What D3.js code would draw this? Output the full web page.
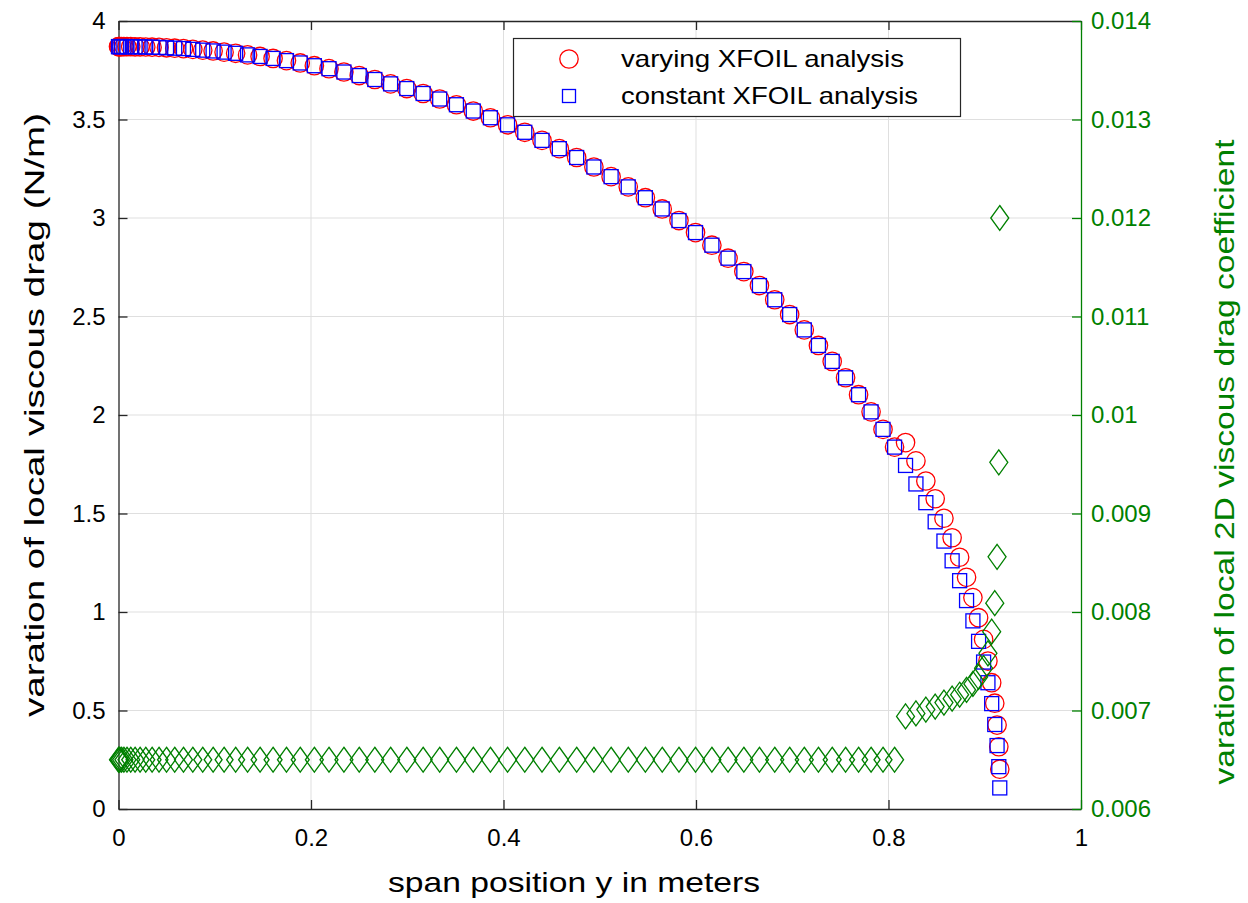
<!DOCTYPE html>
<html>
<head>
<meta charset="utf-8">
<script src="https://cdn.jsdelivr.net/npm/d3@7"></script>
<style>
  html, body { margin: 0; padding: 0; background: #fff; }
  svg { display: block; }
  text { font-family: "Liberation Sans", Arial, sans-serif; }
</style>
</head>
<body>
<svg id="chart" width="1248" height="903"></svg>
<script>
// ---- data ----
const spanPositions = [
  0.0000, 0.0004, 0.0014, 0.0032, 0.0056, 0.0088, 0.0127, 0.0172, 0.0224, 0.0283,
  0.0349, 0.0421, 0.0499, 0.0584, 0.0675, 0.0772, 0.0875, 0.0983, 0.1097, 0.1217,
  0.1341, 0.1471, 0.1606, 0.1745, 0.1888, 0.2035, 0.2187, 0.2342, 0.2501, 0.2663,
  0.2827, 0.2995, 0.3165, 0.3337, 0.3511, 0.3686, 0.3864, 0.4042, 0.4221, 0.4400,
  0.4580, 0.4760, 0.4939, 0.5118, 0.5296, 0.5474, 0.5649, 0.5823, 0.5995, 0.6165,
  0.6333, 0.6497, 0.6659, 0.6818, 0.6973, 0.7125, 0.7272, 0.7415, 0.7554, 0.7689,
  0.7819, 0.7943, 0.8063, 0.8177, 0.8285, 0.8388, 0.8485, 0.8576, 0.8661, 0.8739,
  0.8811, 0.8877, 0.8936, 0.8988, 0.9033, 0.9072, 0.9104, 0.9128, 0.9146, 0.9156
];
const dragVarying = [
  3.870, 3.870, 3.870, 3.870, 3.870, 3.870, 3.870, 3.869, 3.869, 3.868,
  3.867, 3.866, 3.864, 3.862, 3.860, 3.856, 3.852, 3.848, 3.842, 3.836,
  3.828, 3.820, 3.810, 3.799, 3.787, 3.773, 3.758, 3.741, 3.723, 3.703,
  3.681, 3.657, 3.632, 3.604, 3.575, 3.543, 3.509, 3.473, 3.435, 3.394,
  3.352, 3.307, 3.259, 3.210, 3.158, 3.103, 3.046, 2.987, 2.926, 2.862,
  2.796, 2.728, 2.657, 2.585, 2.510, 2.432, 2.353, 2.272, 2.189, 2.103,
  2.016, 1.927, 1.837, 1.860, 1.767, 1.665, 1.575, 1.476, 1.377, 1.278,
  1.176, 1.073, 0.971, 0.861, 0.751, 0.641, 0.537, 0.426, 0.316, 0.202
];
const dragConstant = [
  3.870, 3.870, 3.870, 3.870, 3.870, 3.870, 3.870, 3.869, 3.869, 3.868,
  3.867, 3.866, 3.864, 3.862, 3.860, 3.856, 3.852, 3.848, 3.842, 3.836,
  3.828, 3.820, 3.810, 3.799, 3.787, 3.773, 3.758, 3.741, 3.723, 3.703,
  3.681, 3.657, 3.632, 3.604, 3.575, 3.543, 3.509, 3.473, 3.435, 3.394,
  3.352, 3.307, 3.259, 3.210, 3.158, 3.103, 3.046, 2.987, 2.926, 2.862,
  2.796, 2.728, 2.657, 2.585, 2.510, 2.432, 2.353, 2.272, 2.189, 2.103,
  2.016, 1.927, 1.837, 1.744, 1.650, 1.555, 1.458, 1.360, 1.260, 1.159,
  1.058, 0.955, 0.851, 0.746, 0.641, 0.535, 0.429, 0.322, 0.215, 0.107
];
const dragCoefficient = [
  0.0065, 0.0065, 0.0065, 0.0065, 0.0065, 0.0065, 0.0065, 0.0065, 0.0065, 0.0065,
  0.0065, 0.0065, 0.0065, 0.0065, 0.0065, 0.0065, 0.0065, 0.0065, 0.0065, 0.0065,
  0.0065, 0.0065, 0.0065, 0.0065, 0.0065, 0.0065, 0.0065, 0.0065, 0.0065, 0.0065,
  0.0065, 0.0065, 0.0065, 0.0065, 0.0065, 0.0065, 0.0065, 0.0065, 0.0065, 0.0065,
  0.0065, 0.0065, 0.0065, 0.0065, 0.0065, 0.0065, 0.0065, 0.0065, 0.0065, 0.0065,
  0.0065, 0.0065, 0.0065, 0.0065, 0.0065, 0.0065, 0.0065, 0.0065, 0.0065, 0.0065,
  0.0065, 0.0065, 0.0065, 0.00694, 0.00697, 0.00701, 0.00704, 0.00708, 0.00712, 0.00716,
  0.00721, 0.00727, 0.00734, 0.00743, 0.00758, 0.00780, 0.00809, 0.00856, 0.00952, 0.01200
];
const xTicks = [0, 0.2, 0.4, 0.6, 0.8, 1];
const xTickLabels = ["0", "0.2", "0.4", "0.6", "0.8", "1"];
const yLeftTicks = [0, 0.5, 1, 1.5, 2, 2.5, 3, 3.5, 4];
const yLeftTickLabels = ["0", "0.5", "1", "1.5", "2", "2.5", "3", "3.5", "4"];
const yRightTicks = [0.006, 0.007, 0.008, 0.009, 0.010, 0.011, 0.012, 0.013, 0.014];
const yRightTickLabels = ["0.006", "0.007", "0.008", "0.009", "0.01", "0.011", "0.012", "0.013", "0.014"];
const seriesNames = ["varying XFOIL analysis", "constant XFOIL analysis"];
const xLabel = "span position y in meters";
const yLeftLabel = "varation of local viscous drag (N/m)";
const yRightLabel = "varation of local 2D viscous drag coefficient";

// ---- layout ----
const L = 118.5, R = 1081, T = 21, B = 809;
const axisColor = "#262626", gridColor = "#dfdfdf", green = "#008000";
const svg = d3.select("#chart");

const x = d3.scaleLinear().domain([0, 1]).range([L, R]);
const yL = d3.scaleLinear().domain([0, 4]).range([B, T]);
const yR = d3.scaleLinear().domain([0.006, 0.014]).range([B, T]);

svg.append("rect").attr("width", 1248).attr("height", 903).attr("fill", "#fff");

// grid
const grid = svg.append("g");
grid.selectAll("line.gx").data(xTicks.slice(1, -1)).join("line")
  .attr("x1", d => x(d)).attr("x2", d => x(d)).attr("y1", T).attr("y2", B)
  .attr("stroke", gridColor).attr("stroke-width", 1);
grid.selectAll("line.gy").data(yLeftTicks.slice(1, -1)).join("line")
  .attr("x1", L).attr("x2", R).attr("y1", d => yL(d)).attr("y2", d => yL(d))
  .attr("stroke", gridColor).attr("stroke-width", 1);

// axes
const fs = 24;
const bottomAxis = d3.axisBottom(x).tickValues(xTicks).tickFormat((d, i) => xTickLabels[i])
  .tickSizeInner(-9).tickSizeOuter(0).tickPadding(20);
const gB = svg.append("g").attr("transform", `translate(0,${B})`).call(bottomAxis);
const topAxis = d3.axisTop(x).tickValues(xTicks).tickFormat("").tickSizeInner(-9).tickSizeOuter(0);
const gT = svg.append("g").attr("transform", `translate(0,${T})`).call(topAxis);
const leftAxis = d3.axisLeft(yL).tickValues(yLeftTicks).tickFormat((d, i) => yLeftTickLabels[i])
  .tickSizeInner(-9).tickSizeOuter(0).tickPadding(13);
const gLft = svg.append("g").attr("transform", `translate(${L},0)`).call(leftAxis);
const rightAxis = d3.axisRight(yR).tickValues(yRightTicks).tickFormat((d, i) => yRightTickLabels[i])
  .tickSizeInner(-9).tickSizeOuter(0).tickPadding(10);
const gRt = svg.append("g").attr("transform", `translate(${R},0)`).call(rightAxis);

[gB, gT, gLft].forEach(g => {
  g.selectAll(".domain").attr("stroke", axisColor).attr("stroke-width", 1.3);
  g.selectAll(".tick line").attr("stroke", axisColor).attr("stroke-width", 1.3);
  g.selectAll(".tick text").attr("fill", "#000").style("font-size", fs + "px")
    .style("font-family", "'Liberation Sans', Arial, sans-serif");
});
gRt.selectAll(".domain").attr("stroke", green).attr("stroke-width", 1.3);
gRt.selectAll(".tick line").attr("stroke", green).attr("stroke-width", 1.3);
gRt.selectAll(".tick text").attr("fill", green).style("font-size", fs + "px")
  .style("font-family", "'Liberation Sans', Arial, sans-serif");

// axis labels (stretched to the widths seen in the reference)
svg.append("text").attr("x", 574).attr("y", 892)
  .attr("text-anchor", "middle").attr("font-size", 28).attr("fill", "#000")
  .attr("textLength", 372).attr("lengthAdjust", "spacingAndGlyphs").text(xLabel);
svg.append("text").attr("transform", `translate(44,415) rotate(-90)`)
  .attr("text-anchor", "middle").attr("font-size", 28).attr("fill", "#000")
  .attr("textLength", 604).attr("lengthAdjust", "spacingAndGlyphs").text(yLeftLabel);
svg.append("text").attr("transform", `translate(1234,462) rotate(-90)`)
  .attr("text-anchor", "middle").attr("font-size", 28).attr("fill", green)
  .attr("textLength", 645).attr("lengthAdjust", "spacingAndGlyphs").text(yRightLabel);

// markers
const idx = d3.range(spanPositions.length);
const marks = svg.append("g").attr("fill", "none").attr("stroke-width", 1.3);
marks.selectAll("circle").data(idx).join("circle")
  .attr("cx", i => x(spanPositions[i])).attr("cy", i => yL(dragVarying[i]))
  .attr("r", 9.2).attr("stroke", "#ff0000");
const sq = 14;
marks.selectAll("rect.sq").data(idx).join("rect").attr("class", "sq")
  .attr("x", i => x(spanPositions[i]) - sq / 2).attr("y", i => yL(dragConstant[i]) - sq / 2)
  .attr("width", sq).attr("height", sq).attr("stroke", "#0000ff");
const dw = 9, dh = 12.5;
marks.selectAll("path.dm").data(idx).join("path").attr("class", "dm")
  .attr("d", i => {
    const cx = x(spanPositions[i]), cy = yR(dragCoefficient[i]);
    return `M${cx},${cy - dh}L${cx + dw},${cy}L${cx},${cy + dh}L${cx - dw},${cy}Z`;
  })
  .attr("stroke", green);

// legend
const lg = svg.append("g");
lg.append("rect").attr("x", 513.5).attr("y", 38.5).attr("width", 447).attr("height", 78)
  .attr("fill", "#fff").attr("stroke", axisColor).attr("stroke-width", 1.2);
lg.append("circle").attr("cx", 569).attr("cy", 59).attr("r", 9.2)
  .attr("fill", "none").attr("stroke", "#ff0000").attr("stroke-width", 1.3);
lg.append("rect").attr("x", 569 - sq / 2 + 0.5).attr("y", 96 - sq / 2 + 0.5).attr("width", sq - 1).attr("height", sq - 1)
  .attr("fill", "none").attr("stroke", "#0000ff").attr("stroke-width", 1.3);
lg.append("text").attr("x", 621).attr("y", 67).attr("font-size", 24).attr("fill", "#000")
  .attr("textLength", 283).attr("lengthAdjust", "spacingAndGlyphs").text(seriesNames[0]);
lg.append("text").attr("x", 621).attr("y", 104).attr("font-size", 24).attr("fill", "#000")
  .attr("textLength", 297).attr("lengthAdjust", "spacingAndGlyphs").text(seriesNames[1]);
</script>
</body>
</html>
